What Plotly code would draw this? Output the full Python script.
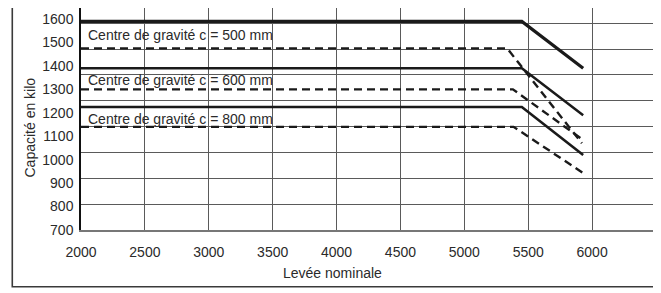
import plotly.graph_objects as go

# ---- data ----
levee_solid = [2000, 5450, 5930]
levee_d500 = [2000, 5335, 5920]
levee_d600 = [2000, 5380, 5915]
levee_d800 = [2000, 5385, 5925]

cap_s500 = [1590, 1590, 1390]
cap_d500 = [1475, 1475, 1070]
cap_s600 = [1390, 1390, 1190]
cap_d600 = [1300, 1300, 1090]
cap_s800 = [1225, 1225, 1020]
cap_d800 = [1140, 1140, 945]

y_ticks = [700, 800, 900, 1000, 1100, 1200, 1300, 1400, 1500, 1600]
x_ticks = [2000, 2500, 3000, 3500, 4000, 4500, 5000, 5500, 6000]
grid_y = [800, 900, 1000, 1100, 1200, 1300, 1400, 1500]

labels = ["Centre de gravité c = 500 mm",
          "Centre de gravité c = 600 mm",
          "Centre de gravité c = 800 mm"]
label_y = [1532, 1342, 1175]

LINE = "#1a1a1a"
GRID = "#5a5a5a"
TXT = "#2a2a2a"
FONT = "Liberation Sans"

fig = go.Figure()

def add(x, y, width, dash):
    fig.add_trace(go.Scatter(x=x, y=y, mode="lines", showlegend=False,
                             line=dict(color=LINE, width=width, dash=dash),
                             hoverinfo="skip"))

add(levee_solid, cap_s500, 3.2, "solid")
add(levee_d500, cap_d500, 2.4, "8px,5px")
add(levee_solid, cap_s600, 2.5, "solid")
add(levee_d600, cap_d600, 2.4, "8px,5px")
add(levee_solid, cap_s800, 2.6, "solid")
add(levee_d800, cap_d800, 2.4, "8px,5px")

# empty trace to keep grid axis alive
fig.add_trace(go.Scatter(x=[], y=[], yaxis="y2", showlegend=False))

for t, yv in zip(labels, label_y):
    fig.add_annotation(x=2040, y=yv, xref="x", yref="y", text=t,
                       showarrow=False, xanchor="left", yanchor="middle",
                       font=dict(family=FONT, size=14, color=TXT))

fig.add_annotation(x=0.438, y=-0.1937, xref="paper", yref="paper",
                   text="Levée nominale", showarrow=False,
                   xanchor="center", yanchor="middle",
                   font=dict(family=FONT, size=14, color=TXT))
fig.add_annotation(x=-0.0887, y=0.4617, xref="paper", yref="paper",
                   text="Capacité en kilo", showarrow=False, textangle=-90,
                   xanchor="center", yanchor="middle",
                   font=dict(family=FONT, size=14, color=TXT))

fig.add_shape(type="rect", xref="paper", yref="paper",
              x0=-0.1195, x1=1.0, y0=-0.2554, y1=1.3,
              line=dict(color="#3a3a3a", width=1.6), fillcolor="rgba(0,0,0,0)",
              layer="above")

fig.update_layout(
    width=653, height=285,
    margin=dict(l=73, r=5, t=0, b=63),
    paper_bgcolor="white", plot_bgcolor="white",
    font=dict(family=FONT, size=14, color=TXT),
    xaxis=dict(range=[2000, 6500], tickvals=x_ticks, showgrid=True,
               gridcolor=GRID, gridwidth=1, zeroline=False, showline=True,
               linecolor="#777", linewidth=1.5, ticks="",
               ticklabelstandoff=8,
               tickfont=dict(family=FONT, size=14, color=TXT)),
    yaxis=dict(range=[700, 1647.1], tickvals=y_ticks, showgrid=False,
               zeroline=False, showline=True, linecolor="#111", linewidth=1.5,
               ticks="", ticklabelstandoff=3,
               tickfont=dict(family=FONT, size=14, color=TXT)),
    yaxis2=dict(range=[700, 1559.1], overlaying="y", tickvals=grid_y,
                showgrid=True, gridcolor=GRID, gridwidth=1,
                showticklabels=False, zeroline=False, showline=False,
                ticks=""),
)

fig.write_html("out.html")
